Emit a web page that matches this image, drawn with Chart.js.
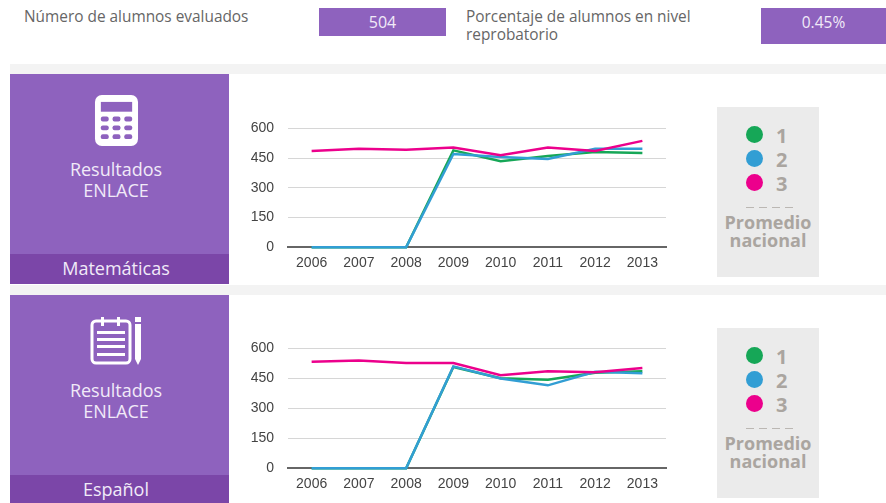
<!DOCTYPE html>
<html>
<head>
<meta charset="utf-8">
<title>Resultados ENLACE</title>
<script src="https://cdn.jsdelivr.net/npm/chart.js@4"></script>
<style>
    html, body { margin: 0; padding: 0; background: #fff; overflow: hidden; }
    body { width: 886px; height: 503px; position: relative; font-family: "Open Sans", sans-serif; }
    .abs { position: absolute; }
    .label { color: #666; font-size: 15.4px; line-height: 18px; }
    .value { background: #8e62be; color: #f1eaf8; font-size: 16px; text-align: center; line-height: 28px; }
    .strip { position: absolute; left: 10px; width: 876px; height: 10px; background: #f3f3f3; }
    .panel { position: absolute; left: 10px; width: 219px; background: #8e62be; color: #f1eaf8; text-align: center; }
    .panel .title { position: absolute; left: 0; width: 100%; box-sizing: border-box; padding-right: 7px; top: 85px; font-size: 18px; line-height: 21px; }
    .panel .band { position: absolute; left: 0; bottom: 0; width: 100%; box-sizing: border-box; padding-right: 7px; background: #7b46a8; font-size: 18px; }
    .panel svg { position: absolute; }
    .legend { position: absolute; left: 717px; width: 102px; height: 170px; background: #ebebeb; color: #aaa5a0; font-weight: 700; }
    .row { position: absolute; left: 29px; height: 24px; font-size: 20px; line-height: 24px; }
    .dot { position: absolute; left: 0; top: 4px; width: 17px; height: 17px; border-radius: 50%; }
    .num { position: absolute; left: 30px; top: 2px; }
    .dash { position: absolute; left: 29px; top: 100px; width: 48px; height: 1px;
        background: repeating-linear-gradient(90deg, #bbb7b3 0 8px, transparent 8px 13px); }
    .nat { position: absolute; left: 0; width: 100%; top: 106px; text-align: center; font-size: 18px; line-height: 18px; }
    canvas { position: absolute; left: 250px; }
</style>
</head>
<body>

<div class="abs label" style="left:24px;top:8px">Número de alumnos evaluados</div>
<div class="abs value" style="left:319px;top:8px;width:127px;height:28px">504</div>
<div class="abs label" style="left:466px;top:8px;width:270px">Porcentaje de alumnos en nivel<br>reprobatorio</div>
<div class="abs value" style="left:761px;top:8px;width:125px;height:36px;font-size:15.5px">0.45%</div>

<div class="strip" style="top:64px"></div>
<div class="panel" style="top:74px;height:210px">
    <svg style="left:84px;top:21px" width="45" height="51" viewBox="0 0 46 52">
        <rect x="1" y="0" width="44" height="52" rx="7" fill="#fff"/>
        <rect x="7" y="7" width="32" height="10" fill="#8e62be"/>
        <g fill="#8e62be">
            <rect x="7" y="22" width="8" height="5" rx="2"/><rect x="19" y="22" width="8" height="5" rx="2"/><rect x="31" y="22" width="8" height="5" rx="2"/>
            <rect x="7" y="31" width="8" height="5" rx="2"/><rect x="19" y="31" width="8" height="5" rx="2"/><rect x="31" y="31" width="8" height="5" rx="2"/>
            <rect x="7" y="40" width="8" height="5" rx="2"/><rect x="19" y="40" width="8" height="5" rx="2"/><rect x="31" y="40" width="8" height="5" rx="2"/>
        </g>
    </svg>
    <div class="title">Resultados<br>ENLACE</div>
    <div class="band" style="height:30px;line-height:29px">Matemáticas</div>
</div>
<canvas id="chartMat" width="440" height="174" style="top:106px;width:440px;height:174px"></canvas>
<div class="legend" id="legendMat" style="top:107px"></div>

<div class="strip" style="top:285px"></div>
<div class="panel" style="top:295px;height:208px">
    <svg style="left:80px;top:22px" width="54" height="49" viewBox="0 0 54 49">
        <rect x="2" y="4" width="38" height="42" rx="4" fill="none" stroke="#fff" stroke-width="3"/>
        <rect x="11" y="0" width="3" height="9" fill="#fff"/><rect x="27" y="0" width="3" height="9" fill="#fff"/>
        <g fill="#fff">
            <rect x="7" y="14" width="28" height="3"/><rect x="7" y="21" width="28" height="3"/>
            <rect x="7" y="28" width="28" height="3"/><rect x="7" y="36" width="28" height="3"/>
        </g>
        <path d="M45 0h6v5h-6z M45 7h6v35l-3 6-3-6z" fill="#fff"/>
    </svg>
    <div class="title">Resultados<br>ENLACE</div>
    <div class="band" style="height:28px;line-height:29px">Español</div>
</div>
<canvas id="chartEsp" width="440" height="175" style="top:326px;width:440px;height:175px"></canvas>
<div class="legend" id="legendEsp" style="top:328px"></div>

<script>
//Data
const years = ['2006', '2007', '2008', '2009', '2010', '2011', '2012', '2013'];
const yTicks = [0, 150, 300, 450, 600];
const seriesNames = ['1', '2', '3'];
const seriesColors = ['#16a757', '#329ed4', '#ec008c'];

const mat1 = [0, 0, 0, 489, 434, 461, 481, 476];
const mat2 = [0, 0, 0, 471, 456, 446, 497, 497];
const mat3 = [486, 497, 492, 504, 464, 504, 486, 537];

const esp1 = [0, 0, 0, 507, 451, 443, 478, 486];
const esp2 = [0, 0, 0, 510, 449, 415, 483, 475];
const esp3 = [533, 539, 527, 527, 466, 485, 480, 502];

function makeChart(id, seriesList) {
    return new Chart(document.getElementById(id), {
        type: 'line',
        data: {
            labels: years,
            datasets: seriesList.map((values, i) => ({
                label: seriesNames[i],
                data: values,
                borderColor: seriesColors[i],
                borderWidth: 2.5,
                pointRadius: 0,
                tension: 0,
                fill: false,
                clip: false,
                order: seriesList.length - i
            }))
        },
        options: {
            responsive: false,
            animation: false,
            layout: { padding: { top: 2, right: 24, bottom: 0, left: 0 } },
            plugins: { legend: { display: false }, tooltip: { enabled: false } },
            scales: {
                x: {
                    offset: true,
                    grid: { display: false, drawTicks: false },
                    border: { color: '#666', width: 2 },
                    ticks: { color: '#444', font: { family: 'Liberation Sans', size: 14 }, padding: 8, maxRotation: 0 }
                },
                y: {
                    min: 0,
                    max: 600,
                    afterBuildTicks: (axis) => { axis.ticks = yTicks.map(v => ({ value: v })); },
                    afterFit: (axis) => { axis.width = 38; },
                    grid: { color: '#d6d6d6', drawTicks: false },
                    border: { display: false },
                    ticks: { color: '#444', font: { family: 'Liberation Sans', size: 14 }, padding: 14 }
                }
            }
        }
    });
}

function makeLegend(id) {
    const box = document.getElementById(id);
    let html = '';
    seriesNames.forEach((name, i) => {
        html += `<div class="row" style="top:${15 + i * 24}px"><span class="dot" style="background:${seriesColors[i]}"></span><span class="num">${name}</span></div>`;
    });
    html += '<div class="dash"></div><div class="nat">Promedio<br>nacional</div>';
    box.innerHTML = html;
}

makeChart('chartMat', [mat1, mat2, mat3]);
makeChart('chartEsp', [esp1, esp2, esp3]);
makeLegend('legendMat');
makeLegend('legendEsp');
</script>
</body>
</html>
